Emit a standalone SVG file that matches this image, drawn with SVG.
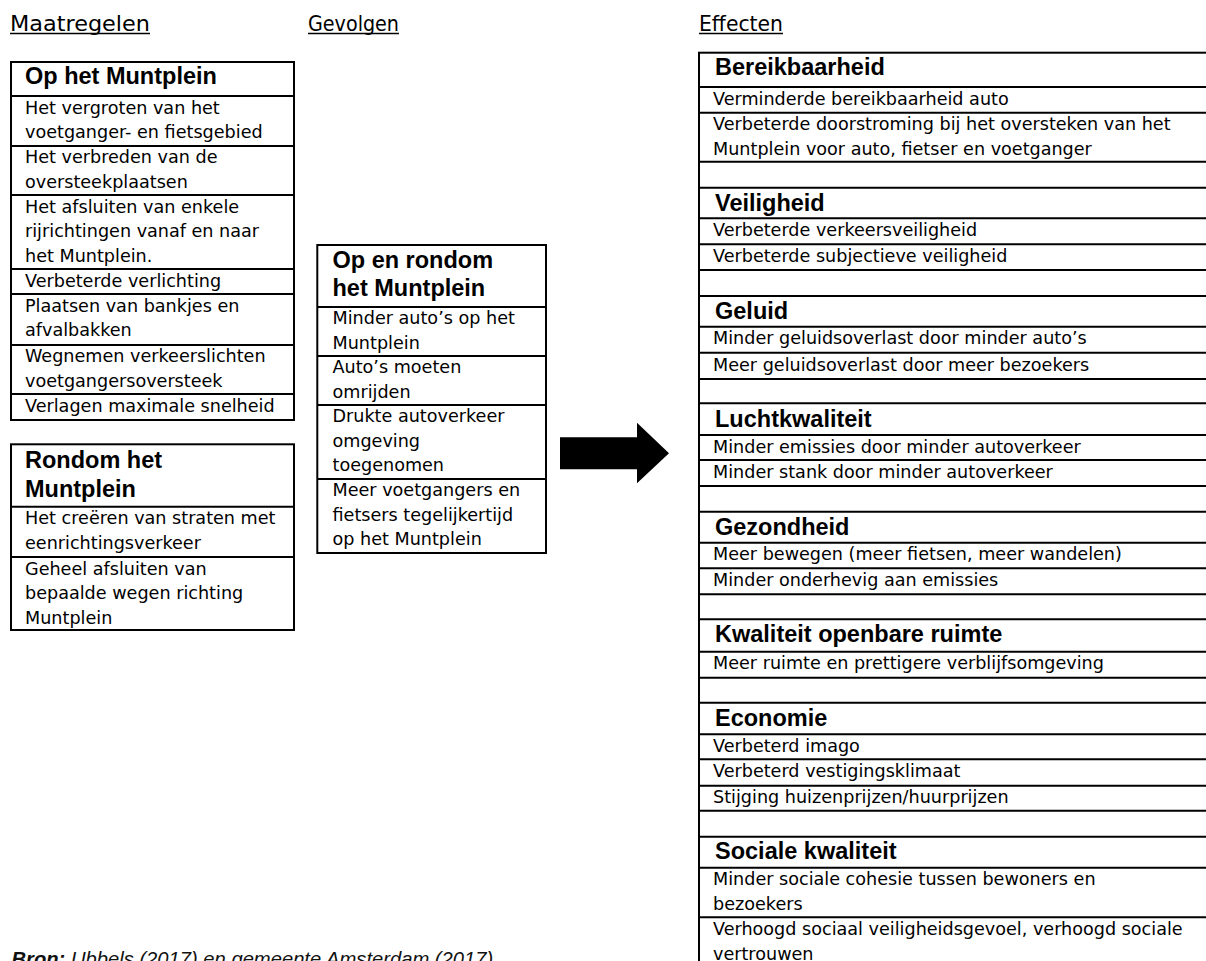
<svg xmlns="http://www.w3.org/2000/svg" width="1206" height="961" viewBox="0 0 1206 961">
<style>
.box{fill:#fff;stroke:#000;stroke-width:2}
.sep{stroke:#000;stroke-width:2}
.t{font-family:"DejaVu Sans","Liberation Sans",sans-serif;font-size:17.6px;fill:#000}
.h{font-family:"Liberation Sans",Arial,sans-serif;font-weight:bold;font-size:23.5px;fill:#000}
.col{font-family:"DejaVu Sans","Liberation Sans",sans-serif;font-size:21px;fill:#000}
.ul{stroke:#000;stroke-width:1.4}
.src{font-family:"Liberation Sans",Arial,sans-serif;font-size:20.2px;font-style:italic;fill:#111}
</style>
<rect width="1206" height="961" fill="#fff"/>
<g id="column-titles">
<text class="col" x="10" y="31" textLength="140" lengthAdjust="spacingAndGlyphs">Maatregelen</text>
<line class="ul" x1="10" y1="33.5" x2="150" y2="33.5"/>
<text class="col" x="308" y="31" textLength="91" lengthAdjust="spacingAndGlyphs">Gevolgen</text>
<line class="ul" x1="308" y1="33.5" x2="399" y2="33.5"/>
<text class="col" x="699" y="31" textLength="84" lengthAdjust="spacingAndGlyphs">Effecten</text>
<line class="ul" x1="699" y1="33.5" x2="783" y2="33.5"/>
</g>
<g id="op-het-muntplein">
<rect class="box" x="11" y="62" width="283" height="358"/>
<line class="sep" x1="11" y1="96" x2="294" y2="96"/>
<line class="sep" x1="11" y1="146" x2="294" y2="146"/>
<line class="sep" x1="11" y1="195" x2="294" y2="195"/>
<line class="sep" x1="11" y1="269" x2="294" y2="269"/>
<line class="sep" x1="11" y1="294" x2="294" y2="294"/>
<line class="sep" x1="11" y1="345" x2="294" y2="345"/>
<line class="sep" x1="11" y1="394" x2="294" y2="394"/>
<text class="h" x="25" y="83.5">Op het Muntplein</text>
<text class="t" x="25" y="113.5">Het vergroten van het</text>
<text class="t" x="25" y="138">voetganger- en fietsgebied</text>
<text class="t" x="25" y="163">Het verbreden van de</text>
<text class="t" x="25" y="187.5">oversteekplaatsen</text>
<text class="t" x="25" y="212.5">Het afsluiten van enkele</text>
<text class="t" x="25" y="237">rijrichtingen vanaf en naar</text>
<text class="t" x="25" y="261.5">het Muntplein.</text>
<text class="t" x="25" y="286.5">Verbeterde verlichting</text>
<text class="t" x="25" y="311.5">Plaatsen van bankjes en</text>
<text class="t" x="25" y="336">afvalbakken</text>
<text class="t" x="25" y="362">Wegnemen verkeerslichten</text>
<text class="t" x="25" y="386.5">voetgangersoversteek</text>
<text class="t" x="25" y="412">Verlagen maximale snelheid</text>
</g>
<g id="rondom-het-muntplein">
<rect class="box" x="11" y="444.3" width="283" height="185.7"/>
<line class="sep" x1="11" y1="506.7" x2="294" y2="506.7"/>
<line class="sep" x1="11" y1="557" x2="294" y2="557"/>
<text class="h" x="25" y="468.3">Rondom het</text>
<text class="h" x="25" y="496.7">Muntplein</text>
<text class="t" x="25" y="524.3">Het creëren van straten met</text>
<text class="t" x="25" y="548.8">eenrichtingsverkeer</text>
<text class="t" x="25" y="574.5">Geheel afsluiten van</text>
<text class="t" x="25" y="599">bepaalde wegen richting</text>
<text class="t" x="25" y="623.5">Muntplein</text>
</g>
<g id="gevolgen">
<rect class="box" x="317.3" y="245" width="228.7" height="308"/>
<line class="sep" x1="317.3" y1="307" x2="546" y2="307"/>
<line class="sep" x1="317.3" y1="356" x2="546" y2="356"/>
<line class="sep" x1="317.3" y1="405" x2="546" y2="405"/>
<line class="sep" x1="317.3" y1="479" x2="546" y2="479"/>
<text class="h" x="332.5" y="268">Op en rondom</text>
<text class="h" x="332.5" y="296">het Muntplein</text>
<text class="t" x="332.5" y="324.2">Minder auto’s op het</text>
<text class="t" x="332.5" y="348.7">Muntplein</text>
<text class="t" x="332.5" y="373.2">Auto’s moeten</text>
<text class="t" x="332.5" y="397.7">omrijden</text>
<text class="t" x="332.5" y="422.2">Drukte autoverkeer</text>
<text class="t" x="332.5" y="446.7">omgeving</text>
<text class="t" x="332.5" y="471.2">toegenomen</text>
<text class="t" x="332.5" y="496.2">Meer voetgangers en</text>
<text class="t" x="332.5" y="520.7">fietsers tegelijkertijd</text>
<text class="t" x="332.5" y="545.2">op het Muntplein</text>
</g>
<g id="connectors">
<polygon points="560,437.3 637,437.3 637,422.7 669,453.3 637,483.3 637,469.3 560,469.3" fill="#000"/>
</g>
<g id="effecten">
<rect class="box" x="699" y="52.7" width="520" height="930"/>
<line class="sep" x1="699" y1="87" x2="1206" y2="87"/>
<line class="sep" x1="699" y1="112.7" x2="1206" y2="112.7"/>
<line class="sep" x1="699" y1="161.7" x2="1206" y2="161.7"/>
<line class="sep" x1="699" y1="187.7" x2="1206" y2="187.7"/>
<line class="sep" x1="699" y1="218.3" x2="1206" y2="218.3"/>
<line class="sep" x1="699" y1="244.3" x2="1206" y2="244.3"/>
<line class="sep" x1="699" y1="270" x2="1206" y2="270"/>
<line class="sep" x1="699" y1="296" x2="1206" y2="296"/>
<line class="sep" x1="699" y1="326.7" x2="1206" y2="326.7"/>
<line class="sep" x1="699" y1="352.7" x2="1206" y2="352.7"/>
<line class="sep" x1="699" y1="379" x2="1206" y2="379"/>
<line class="sep" x1="699" y1="403.3" x2="1206" y2="403.3"/>
<line class="sep" x1="699" y1="435" x2="1206" y2="435"/>
<line class="sep" x1="699" y1="460" x2="1206" y2="460"/>
<line class="sep" x1="699" y1="486" x2="1206" y2="486"/>
<line class="sep" x1="699" y1="511.7" x2="1206" y2="511.7"/>
<line class="sep" x1="699" y1="542.7" x2="1206" y2="542.7"/>
<line class="sep" x1="699" y1="568.3" x2="1206" y2="568.3"/>
<line class="sep" x1="699" y1="594.3" x2="1206" y2="594.3"/>
<line class="sep" x1="699" y1="619.3" x2="1206" y2="619.3"/>
<line class="sep" x1="699" y1="651.7" x2="1206" y2="651.7"/>
<line class="sep" x1="699" y1="677.7" x2="1206" y2="677.7"/>
<line class="sep" x1="699" y1="702.7" x2="1206" y2="702.7"/>
<line class="sep" x1="699" y1="734.3" x2="1206" y2="734.3"/>
<line class="sep" x1="699" y1="759.3" x2="1206" y2="759.3"/>
<line class="sep" x1="699" y1="785.7" x2="1206" y2="785.7"/>
<line class="sep" x1="699" y1="810.7" x2="1206" y2="810.7"/>
<line class="sep" x1="699" y1="836.7" x2="1206" y2="836.7"/>
<line class="sep" x1="699" y1="867.7" x2="1206" y2="867.7"/>
<line class="sep" x1="699" y1="917.3" x2="1206" y2="917.3"/>
<text class="h" x="715" y="75">Bereikbaarheid</text>
<text class="t" x="713" y="104.5">Verminderde bereikbaarheid auto</text>
<text class="t" x="713" y="130.2">Verbeterde doorstroming bij het oversteken van het</text>
<text class="t" x="713" y="154.7">Muntplein voor auto, fietser en voetganger</text>
<text class="h" x="715" y="211">Veiligheid</text>
<text class="t" x="713" y="236">Verbeterde verkeersveiligheid</text>
<text class="t" x="713" y="262">Verbeterde subjectieve veiligheid</text>
<text class="h" x="715" y="318.7">Geluid</text>
<text class="t" x="713" y="344.3">Minder geluidsoverlast door minder auto’s</text>
<text class="t" x="713" y="370.5">Meer geluidsoverlast door meer bezoekers</text>
<text class="h" x="715" y="426.7">Luchtkwaliteit</text>
<text class="t" x="713" y="452.5">Minder emissies door minder autoverkeer</text>
<text class="t" x="713" y="478">Minder stank door minder autoverkeer</text>
<text class="h" x="715" y="535">Gezondheid</text>
<text class="t" x="713" y="560.2">Meer bewegen (meer fietsen, meer wandelen)</text>
<text class="t" x="713" y="586">Minder onderhevig aan emissies</text>
<text class="h" x="715" y="642">Kwaliteit openbare ruimte</text>
<text class="t" x="713" y="669.3">Meer ruimte en prettigere verblijfsomgeving</text>
<text class="h" x="715" y="726.3">Economie</text>
<text class="t" x="713" y="751.8">Verbeterd imago</text>
<text class="t" x="713" y="777.3">Verbeterd vestigingsklimaat</text>
<text class="t" x="713" y="803.2">Stijging huizenprijzen/huurprijzen</text>
<text class="h" x="715" y="859.3">Sociale kwaliteit</text>
<text class="t" x="713" y="885.3">Minder sociale cohesie tussen bewoners en</text>
<text class="t" x="713" y="909.8">bezoekers</text>
<text class="t" x="713" y="935">Verhoogd sociaal veiligheidsgevoel, verhoogd sociale</text>
<text class="t" x="713" y="959.5">vertrouwen</text>
</g>
<g id="bron">
<text class="src" x="11.5" y="965.5"><tspan font-weight="bold">Bron:</tspan> Ubbels (2017) en gemeente Amsterdam (2017)</text>
</g>
</svg>
